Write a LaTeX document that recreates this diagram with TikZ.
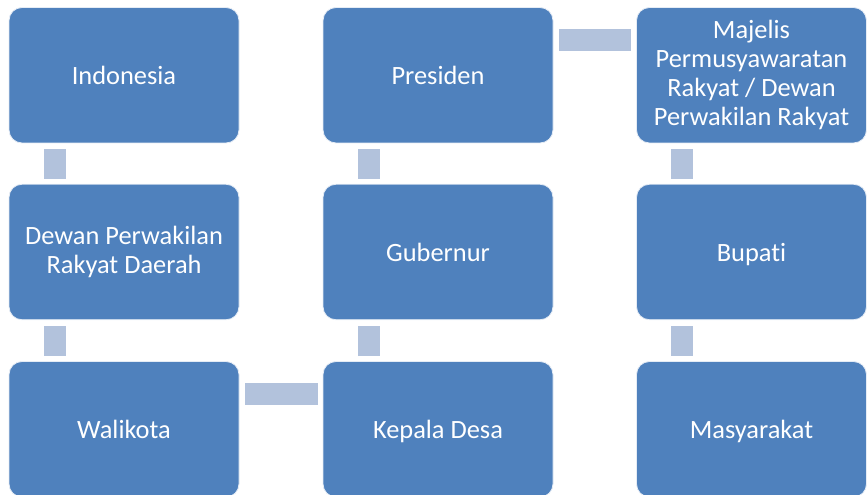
\documentclass[tikz,border=0pt]{standalone}
\usepackage{fontspec}
\setmainfont{Carlito}[Ligatures=NoCommon]
\definecolor{boxblue}{HTML}{4F81BD}
\definecolor{connblue}{HTML}{B2C2DC}
\newcommand\boxstrut{\rule[-5.2pt]{0pt}{29pt}}
\begin{document}
\begin{tikzpicture}[x=1pt,y=1pt,
  stepbox/.style={draw=white!85!boxblue, line width=0.8pt, fill=boxblue, rounded corners=13pt,
    minimum width=230pt, minimum height=135.5pt, inner sep=4pt, align=center, text=white,
    font=\fontsize{26.4}{29}\selectfont,
    execute at begin node=\boxstrut, execute at end node=\boxstrut},
  conn/.style={draw=connblue, line width=22pt}]
\useasboundingbox (0,0) rectangle (868,495);
% row 1
\node[stepbox] (indo) at (124,419.75) {Indonesia};
\node[stepbox] (pres) at (438,419.75) {Presiden};
\node[stepbox] (mpr) at (751.5,419.75) {Majelis\\Permusyawaratan\\Rakyat / Dewan\\Perwakilan Rakyat};
% row 2
\node[stepbox] (dprd) at (124,243) {Dewan Perwakilan\\Rakyat Daerah};
\node[stepbox] (gub) at (438,243) {Gubernur};
\node[stepbox] (bup) at (751.5,243) {Bupati};
% row 3
\node[stepbox] (wali) at (124,65.75) {Walikota};
\node[stepbox] (kades) at (438,65.75) {Kepala Desa};
\node[stepbox] (masy) at (751.5,65.75) {Masyarakat};
% connectors
\draw[conn] ([xshift=46pt,yshift=-6pt]indo.south west) -- ([xshift=46pt,yshift=5pt]dprd.north west);
\draw[conn] ([xshift=46pt,yshift=-6pt]dprd.south west) -- ([xshift=46pt,yshift=5pt]wali.north west);
\draw[conn] ([xshift=6pt,yshift=-32.5pt]wali.north east) -- ([xshift=-5pt,yshift=-32.5pt]kades.north west);
\draw[conn] ([xshift=46pt,yshift=5pt]kades.north west) -- ([xshift=46pt,yshift=-6pt]gub.south west);
\draw[conn] ([xshift=46pt,yshift=5pt]gub.north west) -- ([xshift=46pt,yshift=-6pt]pres.south west);
\draw[conn] ([xshift=6pt,yshift=-32.5pt]pres.north east) -- ([xshift=-5pt,yshift=-32.5pt]mpr.north west);
\draw[conn] ([xshift=46pt,yshift=-6pt]mpr.south west) -- ([xshift=46pt,yshift=5pt]bup.north west);
\draw[conn] ([xshift=46pt,yshift=-6pt]bup.south west) -- ([xshift=46pt,yshift=5pt]masy.north west);
\end{tikzpicture}
\end{document}
